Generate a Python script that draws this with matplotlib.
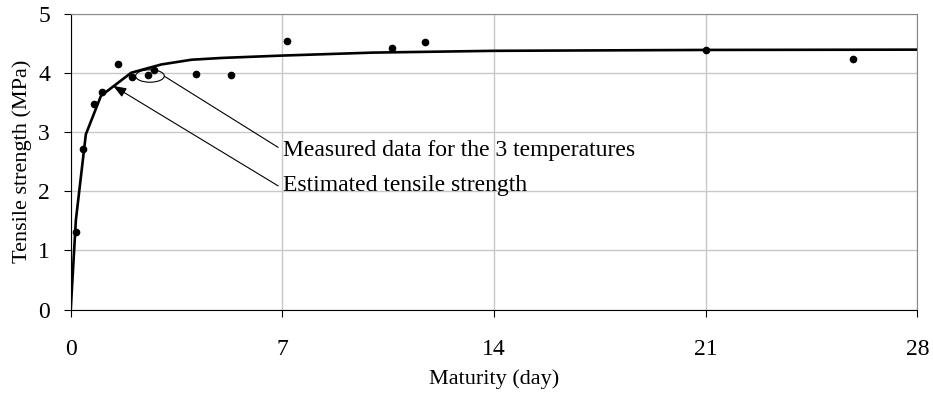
import numpy as np
import matplotlib.pyplot as plt
from matplotlib.patches import Ellipse

plt.rcParams['font.family'] = ['Liberation Serif', 'DejaVu Serif']

# measured tensile strength (all three curing temperatures)
meas_day = [0.17, 0.40, 0.77, 1.05, 1.57, 2.04, 2.57, 2.74, 4.14, 5.30, 7.14, 10.64, 11.71, 21.0, 25.86]
meas_mpa = [1.31, 2.71, 3.47, 3.68, 4.15, 3.93, 3.96, 4.05, 3.98, 3.96, 4.54, 4.41, 4.52, 4.38, 4.24]

# estimated tensile strength from maturity
est_day = [0, 0.17, 0.5, 1, 2, 3, 4, 5, 6, 7, 10, 14, 21, 28]
est_mpa = [0, 1.51, 2.96, 3.61, 4.00, 4.14, 4.22, 4.25, 4.27, 4.29, 4.34, 4.37, 4.385, 4.39]

xticks = [0, 7, 14, 21, 28]
yticks = [0, 1, 2, 3, 4, 5]

fig = plt.figure(figsize=(9.33, 3.95), dpi=100)
ax = fig.add_axes([0.0758, 0.216, 0.9074, 0.7498])

ax.plot(est_day, est_mpa, color='black', lw=1.9, zorder=3)
ax.plot(meas_day, meas_mpa, 'o', color='black', ms=4.5, zorder=4)

ax.set_xlim(0, 28)
ax.set_ylim(0, 5)
ax.set_xticks(xticks)
ax.set_yticks(yticks)
ax.grid(True, color='#c8c8c8', lw=1.0)
ax.set_axisbelow(True)
for s in ['top', 'right']:
    ax.spines[s].set_color('#888888')
for s in ['left', 'bottom']:
    ax.spines[s].set_color('black')
ax.tick_params(direction='out', length=5, width=0.8, labelsize=17)
ax.tick_params(axis='y', pad=10)
ax.tick_params(axis='x', pad=16)

ax.set_xlabel('Maturity (day)', fontsize=16, labelpad=7)
ax.set_ylabel('Tensile strength (MPa)', fontsize=16, labelpad=4)

# ellipse around the clustered points and the two callouts
ax.add_patch(Ellipse((2.62, 3.945), 0.95, 0.21, fill=False, lw=0.8, color='black', zorder=5))
ax.annotate('', xy=(3.1, 3.94), xytext=(6.86, 2.74),
            arrowprops=dict(arrowstyle='-', lw=0.8, color='black', shrinkA=0, shrinkB=0))
ax.annotate('', xy=(1.40, 3.78), xytext=(6.86, 2.09),
            arrowprops=dict(arrowstyle='-|>,head_length=0.8,head_width=0.3', lw=0.8,
                            color='black', shrinkA=0, shrinkB=0))
ax.text(7.02, 2.68, 'Measured data for the 3 temperatures', fontsize=17, va='center', ha='left')
ax.text(7.02, 2.09, 'Estimated tensile strength', fontsize=17, va='center', ha='left')

fig.savefig('out.png', dpi=100)
